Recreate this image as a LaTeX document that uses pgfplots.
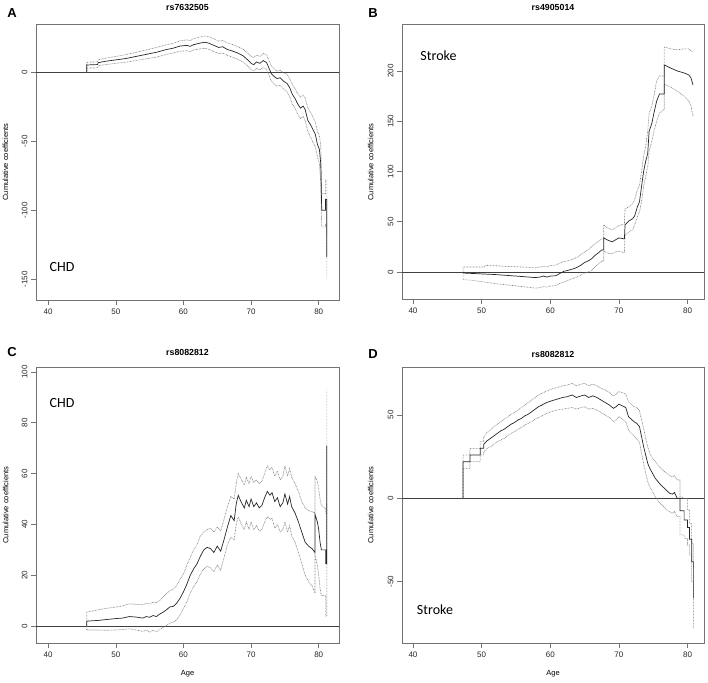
\documentclass[border=0pt]{standalone}
\usepackage{pgfplots}
\pgfplotsset{compat=1.18}
\usepackage{pgfplotstable}
\usepackage{fontspec}
\setmainfont{Liberation Sans}
\newfontfamily\calib{Carlito}

\pgfplotstableread{
x mid up lo
45.70 0 0 0
45.70 5.3 7.3 3.0
47.3 5.6 7.6 3.2
47.4 7.0 9.0 4.8
48.5 8.0 10.3 5.6
50.0 9.0 11.5 6.5
51.5 10.0 12.8 7.3
53.0 11.5 14.5 8.6
54.5 13.0 16.2 9.8
56.0 14.5 18.0 11.0
57.5 16.5 20.0 13.0
58.5 17.5 21.0 14.0
59.5 19.0 22.8 15.3
60.5 19.5 23.5 15.6
61.0 18.8 23.0 15.0
61.5 20.0 24.3 16.2
62.5 21.2 25.7 17.0
63.2 21.8 26.3 17.3
63.8 21.0 25.8 16.6
64.5 19.5 24.2 15.0
65.2 18.0 22.6 13.6
65.8 18.5 23.0 14.0
66.5 16.5 21.2 12.2
67.2 15.5 20.2 11.0
68.0 14.0 18.7 9.5
68.8 12.0 16.8 7.5
69.5 9.0 14.0 4.5
70.0 6.5 11.5 2.0
70.4 5.5 10.7 0.8
70.8 7.5 12.5 2.8
71.3 6.5 11.5 1.8
71.8 8.5 13.8 3.5
72.3 7.0 12.5 1.8
72.6 3.5 9.0 -1.5
73.0 -1.0 4.5 -6.5
73.4 -3.0 2.5 -8.5
73.8 -4.5 0.8 -10.0
74.3 -4.0 1.5 -9.5
74.8 -6.5 -0.5 -12.0
75.3 -8.0 -1.5 -14.0
75.7 -11.0 -4.5 -17.5
76.1 -16.0 -9.0 -23.0
76.5 -19.0 -12.0 -26.0
76.9 -23.0 -15.5 -30.5
77.3 -26.0 -18.0 -33.5
77.7 -24.5 -16.5 -32.0
78.0 -27.0 -18.5 -35.0
78.4 -35.0 -26.0 -43.0
78.8 -38.0 -29.0 -47.0
79.2 -42.0 -33.0 -51.0
79.5 -45.0 -36.0 -54.0
79.8 -52.0 -43.0 -61.0
80.1 -56.0 -46.0 -66.0
80.3 -66.0 -53.0 -80.0
80.4 -90.0 -77.0 -104.0
80.45 -100.0 -88.0 -112.0
81.0 -100.0 -88.0 -112.0
81.0 -92.0 -78.0 -110.0
81.2 -92.0 -78.0 -110.0
81.2 -134.0 -118.0 -150.0
}\tabA

\pgfplotstableread{
x mid up lo
47.3 0 0 0
47.3 -1.0 5.0 -7.5
49.0 -1.5 5.0 -8.5
50.4 -2.0 5.0 -10.0
50.5 -2.0 6.5 -10.0
52.0 -2.5 6.3 -11.5
54.0 -3.5 5.5 -13.0
56.0 -4.5 5.0 -14.5
57.8 -5.5 4.2 -16.0
58.5 -5.0 5.0 -15.5
59.0 -4.0 5.5 -14.5
59.5 -5.0 5.0 -15.0
60.0 -4.0 6.5 -14.0
60.8 -3.7 7.0 -13.5
61.5 -1.0 9.0 -11.0
62.0 0.8 10.5 -10.0
62.5 1.5 11.0 -8.5
63.0 2.5 12.0 -7.0
63.5 3.5 13.5 -6.0
64.0 5.0 15.0 -4.5
64.5 7.0 17.5 -3.0
65.0 9.5 20.0 -1.0
65.5 11.0 22.0 0.0
66.0 13.0 25.0 1.5
66.5 16.5 28.0 5.0
67.0 19.0 30.5 8.0
67.5 22.0 33.0 11.0
67.8 22.0 33.0 11.0
67.8 34.0 47.0 21.0
68.3 32.0 44.0 19.0
69.0 30.0 42.0 18.0
69.5 32.0 44.0 20.0
70.0 34.0 46.0 21.0
70.8 33.0 48.0 19.0
70.9 47.0 63.0 37.0
71.5 51.0 65.0 40.0
72.0 53.0 68.0 42.0
72.3 56.0 72.0 47.0
72.7 65.0 82.0 55.0
73.0 70.0 86.0 60.0
73.3 85.0 100.0 70.0
73.6 100.0 115.0 85.0
73.9 110.0 125.0 95.0
74.2 118.0 140.0 105.0
74.4 140.0 158.0 120.0
74.8 148.0 165.0 130.0
75.1 158.0 175.0 140.0
75.5 170.0 190.0 150.0
75.9 177.0 195.0 158.0
76.6 177.0 195.0 162.0
76.6 206.0 224.0 187.0
77.5 203.0 222.0 184.0
78.5 200.0 221.0 180.0
79.5 198.0 222.0 175.0
80.2 196.0 222.0 170.0
80.5 193.0 220.0 165.0
80.8 186.0 219.0 155.0
}\tabB

\pgfplotstableread{
x mid up lo
45.7 0 0 0
45.7 2.0 5.5 -1.5
47.5 2.3 6.5 -1.5
48.5 2.6 7.0 -1.6
50.0 3.0 7.5 -1.5
51.0 3.2 8.0 -1.3
52.0 3.8 8.8 -1.0
53.0 3.6 8.6 -1.5
54.0 3.2 8.4 -2.0
54.5 3.8 9.0 -1.5
55.0 3.5 8.8 -2.3
55.5 4.2 9.5 -1.6
56.0 3.8 9.2 -2.2
56.5 4.8 10.2 -1.2
57.0 5.5 11.5 -0.5
57.5 6.5 12.8 0.3
58.0 7.6 14.0 1.2
58.5 7.8 14.5 1.6
59.0 9.0 16.0 2.5
59.5 11.0 18.5 4.5
60.0 13.5 20.5 7.0
60.5 16.5 24.0 9.5
61.0 20.0 27.0 13.0
61.5 22.5 30.0 15.5
62.0 24.5 32.0 17.5
62.5 27.5 35.5 20.5
63.0 30.0 37.0 22.5
63.5 31.0 38.0 23.5
64.0 30.5 38.5 23.0
64.5 29.0 37.0 21.5
65.0 31.5 39.0 24.0
65.5 29.5 37.5 22.0
66.0 34.0 42.0 27.0
66.5 39.0 47.0 32.0
67.0 43.5 51.0 35.0
67.5 41.5 50.0 34.0
67.8 48.0 56.0 40.0
68.1 51.5 60.0 43.0
68.5 49.0 58.0 40.5
69.0 46.5 55.5 38.0
69.3 49.5 58.5 41.0
69.7 47.0 56.0 38.0
70.0 50.0 59.0 41.0
70.4 47.0 56.5 38.0
70.8 48.5 57.5 39.5
71.2 46.5 56.0 37.5
71.6 47.5 57.0 38.0
72.0 50.5 60.0 41.0
72.4 53.0 63.0 43.0
72.8 51.5 61.5 42.0
73.1 52.5 62.5 42.5
73.5 49.0 59.0 38.5
73.9 50.5 61.0 40.0
74.3 47.0 57.5 37.0
74.7 48.5 59.0 38.0
75.0 52.0 63.0 41.0
75.4 48.0 59.0 37.0
75.7 51.0 62.0 39.5
76.0 47.0 58.5 35.5
76.5 44.5 56.0 33.0
77.0 41.0 53.0 29.0
77.5 37.0 49.0 24.5
78.0 33.0 46.5 20.0
78.5 31.5 45.5 17.5
79.0 30.5 45.0 16.0
79.45 29.0 44.5 13.0
79.45 44.0 59.0 28.0
79.8 41.0 57.0 24.0
80.0 38.0 54.0 20.0
80.2 33.0 50.0 15.0
80.4 30.0 47.5 12.0
81.05 30.0 46.0 12.0
81.05 24.5 44.5 4.0
81.2 24.5 44.5 4.0
81.2 71.0 93.0 48.0
}\tabC

\pgfplotstableread{
x mid up lo
47.3 0 0 0
47.3 22.0 26.0 18.0
48.3 22.0 26.0 18.0
48.3 26.0 30.0 22.0
49.8 26.0 30.0 22.0
49.8 30.0 34.0 26.0
50.3 30.0 34.0 26.0
50.3 32.5 37.0 28.0
50.8 34.5 39.5 30.0
51.3 36.0 41.0 31.0
51.8 37.5 43.0 32.5
52.3 39.0 44.5 34.0
52.8 40.5 46.0 35.0
53.3 41.5 47.5 36.0
53.8 43.0 49.0 37.5
54.3 44.5 50.5 39.0
54.8 45.5 51.5 40.0
55.3 47.0 53.0 41.5
55.8 48.0 54.5 42.5
56.3 49.5 56.0 44.0
56.8 50.5 57.5 45.0
57.3 52.0 59.0 46.0
57.8 53.5 60.5 47.5
58.3 55.0 62.0 48.5
58.8 56.0 63.0 49.5
59.5 57.5 64.5 51.0
60.2 58.5 65.5 52.0
61.0 59.5 66.5 53.0
61.8 60.5 67.5 53.5
62.5 61.0 68.0 54.0
63.2 62.0 69.0 54.5
63.8 60.5 67.5 53.5
64.5 61.5 68.5 54.5
65.0 62.0 69.0 55.0
65.6 60.5 67.5 53.5
66.2 61.5 68.5 54.0
66.8 60.5 67.5 53.0
67.4 59.0 66.0 51.5
68.0 57.5 65.0 50.0
68.6 56.0 63.5 48.5
69.2 54.0 61.5 46.0
69.6 55.0 62.5 47.0
70.0 56.5 64.0 49.0
70.5 55.5 63.5 47.5
71.0 54.5 62.5 46.0
71.4 49.0 58.0 41.0
71.8 47.5 56.5 39.0
72.2 46.0 55.0 37.5
72.6 45.0 54.5 35.5
73.0 43.0 52.5 33.5
73.3 37.0 47.0 27.0
73.6 31.0 42.0 21.0
73.9 26.0 36.0 15.0
74.2 21.0 31.0 10.0
74.5 18.0 27.0 7.0
74.9 15.0 24.0 4.0
75.3 12.0 22.0 1.0
75.7 10.0 20.0 -1.5
76.1 8.0 18.0 -3.5
76.5 6.5 16.5 -5.0
77.0 4.5 15.0 -7.0
77.4 3.0 13.5 -8.0
77.8 2.5 13.0 -9.0
78.1 3.5 13.5 -8.0
78.5 0.0 11.0 -11.0
78.9 0.0 11.0 -11.0
78.9 -7.5 1.0 -22.0
79.5 -7.5 0.0 -22.0
79.5 -13.0 0.0 -24.0
80.0 -13.0 0.0 -24.0
80.0 -17.5 -7.0 -28.0
80.3 -17.5 -7.0 -28.0
80.3 -24.5 -15.0 -34.0
80.6 -24.5 -15.0 -34.0
80.6 -38.0 -27.0 -50.0
80.85 -38.0 -27.0 -50.0
80.85 -60.0 -42.0 -78.0
}\tabD

\pgfplotsset{
  rplot/.style={
    scale only axis,
    axis line style={black!55, line width=0.7pt},
    tick style={black!55, line width=0.6pt},
    tick align=outside,
    xtick pos=bottom, ytick pos=left,
    major tick length=5pt,
    tick label style={font=\fontsize{8}{9}\selectfont, text=black!85},
    /pgf/number format/assume math mode=true,
    xtick={40,50,60,70,80},
    xticklabels={40,50,60,70,80},
    yticklabel style={rotate=90, anchor=south},
  },
  midl/.style={black!85, line width=0.7pt},
  bndl/.style={black!50, line width=0.65pt, dash pattern=on 0.7pt off 0.8pt},
  zerol/.style={black!75, line width=0.7pt},
}

\begin{document}
\begin{tikzpicture}[x=1pt,y=1pt]
\useasboundingbox (0,0) rectangle (708,682);

% Panel A
\begin{axis}[rplot, at={(36pt,382pt)}, anchor=south west, width=303pt, height=276pt,
  xmin=38.2, xmax=83, ymin=-165, ymax=35,
  ytick={-150,-100,-50,0}, yticklabels={-150,-100,-50,0}]
\addplot[zerol] coordinates {(30,0) (90,0)};
\addplot[bndl] table[x=x,y=up] {\tabA};
\addplot[bndl] table[x=x,y=lo] {\tabA};
\addplot[midl] table[x=x,y=mid] {\tabA};
\end{axis}

% Panel B
\begin{axis}[rplot, at={(402pt,383pt)}, anchor=south west, width=302pt, height=275pt,
  xmin=38.4, xmax=82.4, ymin=-26.8, ymax=246.7,
  ytick={0,50,100,150,200}, yticklabels={0,50,100,150,200}]
\addplot[zerol] coordinates {(30,0) (90,0)};
\addplot[bndl] table[x=x,y=up] {\tabB};
\addplot[bndl] table[x=x,y=lo] {\tabB};
\addplot[midl] table[x=x,y=mid] {\tabB};
\end{axis}

% Panel C
\begin{axis}[rplot, at={(36pt,39pt)}, anchor=south west, width=303pt, height=276pt,
  xmin=38.2, xmax=83, ymin=-6.6, ymax=101.9,
  ytick={0,20,40,60,80,100}, yticklabels={0,20,40,60,80,100}]
\addplot[zerol] coordinates {(30,0) (90,0)};
\addplot[bndl] table[x=x,y=up] {\tabC};
\addplot[bndl] table[x=x,y=lo] {\tabC};
\addplot[midl] table[x=x,y=mid] {\tabC};
\end{axis}

% Panel D
\begin{axis}[rplot, at={(402pt,39pt)}, anchor=south west, width=302pt, height=276pt,
  xmin=38.4, xmax=82.4, ymin=-86.8, ymax=78.8,
  ytick={-50,0,50}, yticklabels={-50,0,50}]
\addplot[zerol] coordinates {(30,0) (90,0)};
\addplot[bndl] table[x=x,y=up] {\tabD};
\addplot[bndl] table[x=x,y=lo] {\tabD};
\addplot[midl] table[x=x,y=mid] {\tabD};
\end{axis}

% Panel letters
\node[font=\fontsize{13}{14}\selectfont\bfseries] at (12,669) {A};
\node[font=\fontsize{13}{14}\selectfont\bfseries] at (373,669) {B};
\node[font=\fontsize{13}{14}\selectfont\bfseries] at (12,330) {C};
\node[font=\fontsize{13}{14}\selectfont\bfseries] at (373,328) {D};
% Titles
\node[font=\fontsize{8.8}{10}\selectfont\bfseries] at (187.5,675) {rs7632505};
\node[font=\fontsize{8.8}{10}\selectfont\bfseries] at (553,675) {rs4905014};
\node[font=\fontsize{8.8}{10}\selectfont\bfseries] at (187.5,330) {rs8082812};
\node[font=\fontsize{8.8}{10}\selectfont\bfseries] at (553,328) {rs8082812};
% Y labels
\node[font=\fontsize{7.5}{9}\selectfont, rotate=90] at (5.5,520) {Cumulative coefficients};
\node[font=\fontsize{7.5}{9}\selectfont, rotate=90] at (370.7,520) {Cumulative coefficients};
\node[font=\fontsize{7.5}{9}\selectfont, rotate=90] at (5.7,177) {Cumulative coefficients};
\node[font=\fontsize{7.5}{9}\selectfont, rotate=90] at (370.7,177) {Cumulative coefficients};
% X labels
\node[font=\fontsize{7.5}{9}\selectfont] at (187.5,8) {Age};
\node[font=\fontsize{7.5}{9}\selectfont] at (553,8) {Age};
% Annotations
\node[font=\fontsize{14}{16}\selectfont\calib] at (62,415) {CHD};
\node[font=\fontsize{14}{16}\selectfont\calib] at (438.5,626) {Stroke};
\node[font=\fontsize{14}{16}\selectfont\calib] at (62,279.3) {CHD};
\node[font=\fontsize{14}{16}\selectfont\calib] at (435,72) {Stroke};
\end{tikzpicture}
\end{document}
